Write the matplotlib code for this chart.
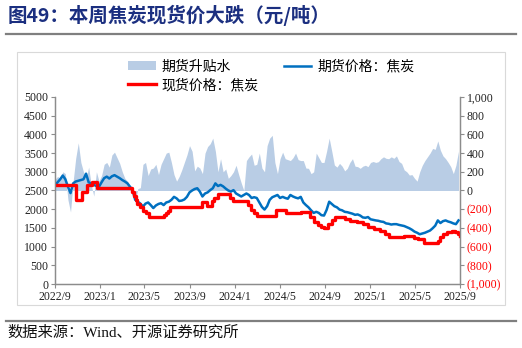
import matplotlib
matplotlib.use("Agg")
import matplotlib.pyplot as plt
import pandas as pd
from matplotlib.lines import Line2D
from matplotlib.patches import Patch, Rectangle

plt.rcParams['font.family'] = ['Liberation Serif', 'Noto Sans CJK SC']

# futures price and basis, weekly from 2022-09-01
futures = [2650, 2720, 2800, 2900, 2800, 2600, 2430, 2690, 2740, 2760,
           2780, 2800, 2950, 2720, 2690, 2650, 2620, 2600, 2720, 2830,
           2870, 2820, 2880, 2910, 2870, 2830, 2780, 2740, 2690, 2600,
           2510, 2250, 2200, 2150, 2070, 2150, 2180, 2110, 2030, 2100,
           2140, 2160, 2110, 2180, 2200, 2250, 2330, 2290, 2220, 2230,
           2260, 2330, 2450, 2500, 2540, 2560, 2470, 2340, 2420, 2450,
           2510, 2560, 2690, 2620, 2650, 2610, 2550, 2500, 2470, 2510,
           2420, 2380, 2340, 2380, 2420, 2380, 2300, 2320, 2300, 2180,
           2060, 1990, 2080, 2250, 2320, 2350, 2380, 2300, 2330, 2300,
           2280, 2380, 2340, 2310, 2290, 2330, 2180, 2110, 2050, 1970,
           1900, 1930, 1900, 1840, 1830, 1980, 2200, 2140, 2080, 2050,
           1990, 1970, 1930, 1920, 1900, 1880, 1850, 1860, 1830, 1780,
           1770, 1790, 1730, 1715, 1700, 1690, 1670, 1660, 1620, 1610,
           1590, 1600, 1600, 1580, 1565, 1550, 1520, 1490, 1450, 1400,
           1370, 1330, 1350, 1370, 1400, 1430, 1490, 1560, 1700, 1630,
           1680, 1700, 1670, 1650, 1620, 1600, 1700]
basis = [120, 150, 130, 200, 180, -100, -230, 95, 344, 510,
         300, 200, 120, 250, 60, -60, 200, 100, 160, 280,
         300, 250, 380, 410, 350, 290, 200, 130, 100, 40,
         -30, -130, 20, 30, 280, 300, 160, 230, 240, 280,
         170, 280, 340, 400, 410, 300, 170, 100, 150, 220,
         300, 380, 480, 420, 210, 260, 240, 180, 400, 470,
         500, 560, 420, 200, 340, 200, 230, 130, 160, 200,
         270, 170, 80, 0, 320, 360, 390, 270, 280, 400,
         240, 200, 480, 560, 590, 300, 180, 340, 410, 340,
         330, 320, 350, 400, 330, 320, 320, 240, 237, 180,
         200, 400, 350, 300, 300, 420, 560, 420, 273, 250,
         290, 260, 210, 237, 300, 340, 260, 255, 237, 260,
         270, 255, 300, 310, 300, 308, 340, 360, 344, 340,
         360, 344, 370, 310, 290, 220, 200, 165, 170, 130,
         100, 200, 270, 320, 360, 400, 450, 440, 530, 430,
         370, 340, 300, 255, 180, 270, 420]

# spot price changes (date of change, new price)
spot_dates = ['2022-09-01', '2022-10-28', '2022-11-13', '2022-11-26', '2022-12-10',
              '2022-12-23', '2023-03-28', '2023-04-02', '2023-04-07', '2023-04-12',
              '2023-04-19', '2023-04-27', '2023-05-05', '2023-05-13', '2023-06-23',
              '2023-06-28', '2023-07-04', '2023-07-09', '2023-10-03', '2023-10-17',
              '2023-10-30', '2023-11-05', '2023-11-16', '2023-12-18', '2023-12-27',
              '2024-02-05', '2024-02-13', '2024-02-21', '2024-02-29', '2024-04-21',
              '2024-05-18', '2024-06-27', '2024-07-22', '2024-08-01', '2024-08-12',
              '2024-08-20', '2024-08-28', '2024-09-08', '2024-09-19', '2024-09-27',
              '2024-10-24', '2024-11-07', '2024-11-26', '2024-12-13', '2024-12-27',
              '2025-01-12', '2025-01-28', '2025-02-10', '2025-02-21', '2025-04-03',
              '2025-04-30', '2025-05-11', '2025-05-27', '2025-07-03', '2025-07-08',
              '2025-07-16', '2025-07-27', '2025-08-10', '2025-08-18', '2025-08-26',
              '2025-09-01']
spot = [2650, 2250, 2450, 2650, 2720, 2570, 2450, 2350, 2250, 2150,
        2050, 1950, 1900, 1800, 1850, 1900, 1950, 2050, 2180, 2090,
        2220, 2310, 2400, 2300, 2220, 2110, 1980, 1890, 1820, 1990,
        1900, 1920, 1800, 1670, 1580, 1530, 1500, 1600, 1700, 1780,
        1740, 1680, 1650, 1600, 1530, 1480, 1420, 1330, 1270, 1290,
        1240, 1190, 1090, 1150, 1270, 1350, 1400, 1420, 1380, 1330,
        1290]

x_ticks = ['2022-09-01', '2023-01-01', '2023-05-01', '2023-09-01', '2024-01-01',
           '2024-05-01', '2024-09-01', '2025-01-01', '2025-05-01', '2025-09-01']
left_ticks = list(range(0, 5001, 500))
right_ticks = list(range(-1000, 1001, 200))

dates = pd.date_range('2022-09-01', periods=len(futures), freq='7D')
spot_dates = pd.to_datetime(spot_dates)
x_ticks = pd.to_datetime(x_ticks)

fig = plt.figure(figsize=(5.22, 3.48), dpi=100)
ax = fig.add_axes([0.1054, 0.1839, 0.7758, 0.5374])
ax2 = ax.twinx()
ax.set_zorder(ax2.get_zorder() + 1)
ax.patch.set_visible(False)

ax2.fill_between(dates, 0, basis, color='#B9CDE5', lw=0)
ax.plot(dates, futures, color='#0070C0', lw=1.8)
ax.plot(spot_dates, spot, color='#FF0000', lw=2.4, drawstyle='steps-post')

ax.set_xlim(x_ticks[0], x_ticks[-1])
ax.set_ylim(0, 5000)
ax2.set_ylim(-1000, 1000)

grey = '#8C8C8C'
for a in (ax, ax2):
    a.spines['top'].set_visible(False)
    for s in ('left', 'right', 'bottom'):
        a.spines[s].set_color(grey)
        a.spines[s].set_linewidth(0.9)
    a.tick_params(colors=grey, length=3, width=0.8, labelsize=8.5, labelcolor='#222222', pad=2)

ax.set_xticks(x_ticks)
ax.set_xticklabels([f"{d.year}/{d.month}" for d in x_ticks])
ax.set_yticks(left_ticks)
ax.set_yticklabels([str(v) for v in left_ticks])

ax2.set_yticks(right_ticks)
ax2.set_yticklabels([f"({abs(v):,})" if v < 0 else f"{v:,}" for v in right_ticks])
for lab, v in zip(ax2.get_yticklabels(), right_ticks):
    lab.set_color('#FF0000' if v < 0 else '#222222')

handles = [Patch(facecolor='#B9CDE5', edgecolor='none'),
           Line2D([], [], color='#FF0000', lw=2.4),
           Line2D([], [], color='#0070C0', lw=1.8)]
labels = ['期货升贴水', '现货价格：焦炭', '期货价格：焦炭']
fig.legend(handles, labels, ncol=2, loc='upper left', bbox_to_anchor=(0.235, 0.845),
           frameon=False, handlelength=2.0, handletextpad=0.4,
           columnspacing=1.8, labelspacing=0.35, borderaxespad=0,
           prop={'family': ['Noto Sans CJK SC'], 'size': 10})

# chart frame and rules
fig.add_artist(Rectangle((17 / 522, 1 - 305 / 348), 488 / 522, 253 / 348,
                         transform=fig.transFigure, fill=False, ec='#D9D9D9', lw=0.8))
fig.add_artist(Line2D([6 / 522, 516 / 522], [1 - 34 / 348] * 2, color='#7F7F7F', lw=1.6))
fig.add_artist(Line2D([6 / 522, 516 / 522], [1 - 321 / 348] * 2, color='#7F7F7F', lw=1.6))

fig.text(8 / 522, 1 - 15 / 348, '图49：本周焦炭现货价大跌（元/吨）', fontsize=14, fontweight='bold',
         color='#1B2F80', va='center', ha='left', family=['Noto Sans CJK SC'])
fig.text(7 / 522, 1 - 333 / 348, '数据来源：Wind、开源证券研究所', fontsize=11,
         color='#111111', va='center', ha='left')

fig.savefig('out.png', dpi=100)
